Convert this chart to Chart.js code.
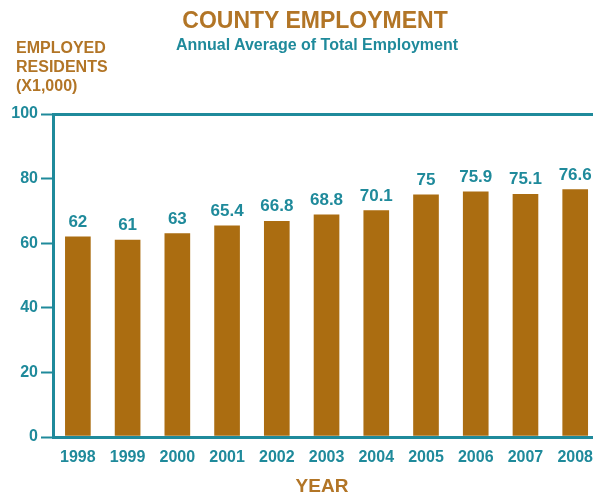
<!DOCTYPE html>
<html>
<head>
<meta charset="utf-8">
<script src="https://cdn.jsdelivr.net/npm/chart.js@4/dist/chart.umd.min.js"></script>
<style>
  html, body { margin: 0; padding: 0; background: #fff; overflow: hidden; width: 593px; height: 497px; }
  #wrap { position: relative; width: 604px; height: 497px; }
  canvas { position: absolute; left: 0; top: 0; }
  .t { position: absolute; font-family: "Liberation Sans", Arial, sans-serif; font-weight: bold; white-space: nowrap; }
</style>
</head>
<body>
<div id="wrap">
  <canvas id="c" width="604" height="497"></canvas>
  <div class="t" style="left:0;width:630px;text-align:center;top:7px;font-size:23px;color:#b27526;">COUNTY EMPLOYMENT</div>
  <div class="t" style="left:0;width:634px;text-align:center;top:36px;font-size:16px;color:#1f8a9b;">Annual Average of Total Employment</div>
  <div class="t" style="left:16px;top:38px;font-size:16px;line-height:19px;color:#b27526;">EMPLOYED<br>RESIDENTS<br>(X1,000)</div>
  <div class="t" style="left:0;width:644px;text-align:center;top:475px;font-size:19px;color:#b27526;">YEAR</div>
</div>
<script>
const years = ["1998","1999","2000","2001","2002","2003","2004","2005","2006","2007","2008"];
const employed = [62, 61, 63, 65.4, 66.8, 68.8, 70.1, 75, 75.9, 75.1, 76.6];
const yTicks = [0, 20, 40, 60, 80, 100];

const TEAL = "#1f8a9b";
const BAR = "#ab6d11";

const valueLabels = {
  id: "valueLabels",
  afterDatasetsDraw(chart) {
    const ctx = chart.ctx;
    const meta = chart.getDatasetMeta(0);
    ctx.save();
    ctx.fillStyle = TEAL;
    ctx.font = "bold 17px 'Liberation Sans', Arial, sans-serif";
    ctx.textAlign = "center";
    ctx.textBaseline = "alphabetic";
    meta.data.forEach((el, i) => {
      ctx.fillText(String(employed[i]), el.x, el.y - 10);
    });
    ctx.restore();
  }
};

new Chart(document.getElementById("c"), {
  type: "bar",
  data: {
    labels: years,
    datasets: [{
      data: employed,
      backgroundColor: BAR,
      borderWidth: 0,
      barThickness: 25
    }]
  },
  options: {
    responsive: false,
    animation: false,
    layout: { padding: { top: 114, left: 0, right: 0, bottom: 0 } },
    plugins: { legend: { display: false }, tooltip: { enabled: false } },
    scales: {
      x: {
        offset: true,
        grid: { display: false, drawTicks: false },
        border: { display: true, color: TEAL, width: 3 },
        ticks: {
          color: TEAL,
          font: { family: "'Liberation Sans', Arial, sans-serif", weight: "bold", size: 16 },
          padding: 11,
          maxRotation: 0,
          autoSkip: false
        },
        afterFit(scale) { scale.height = 60; }
      },
      y: {
        min: 0,
        max: 100,
        afterBuildTicks(scale) { scale.ticks = yTicks.map(v => ({ value: v })); },
        grid: {
          display: true,
          drawTicks: true,
          tickLength: 12,
          tickColor: TEAL,
          tickWidth: 2,
          color: ctx => (ctx.tick && ctx.tick.value === 100) ? TEAL : "rgba(0,0,0,0)",
          lineWidth: 3
        },
        border: { display: true, color: TEAL, width: 3 },
        ticks: {
          color: TEAL,
          font: { family: "'Liberation Sans', Arial, sans-serif", weight: "bold", size: 16 },
          padding: 3
        },
        afterFit(scale) { scale.width = 53; }
      }
    }
  },
  plugins: [valueLabels]
});
</script>
</body>
</html>
